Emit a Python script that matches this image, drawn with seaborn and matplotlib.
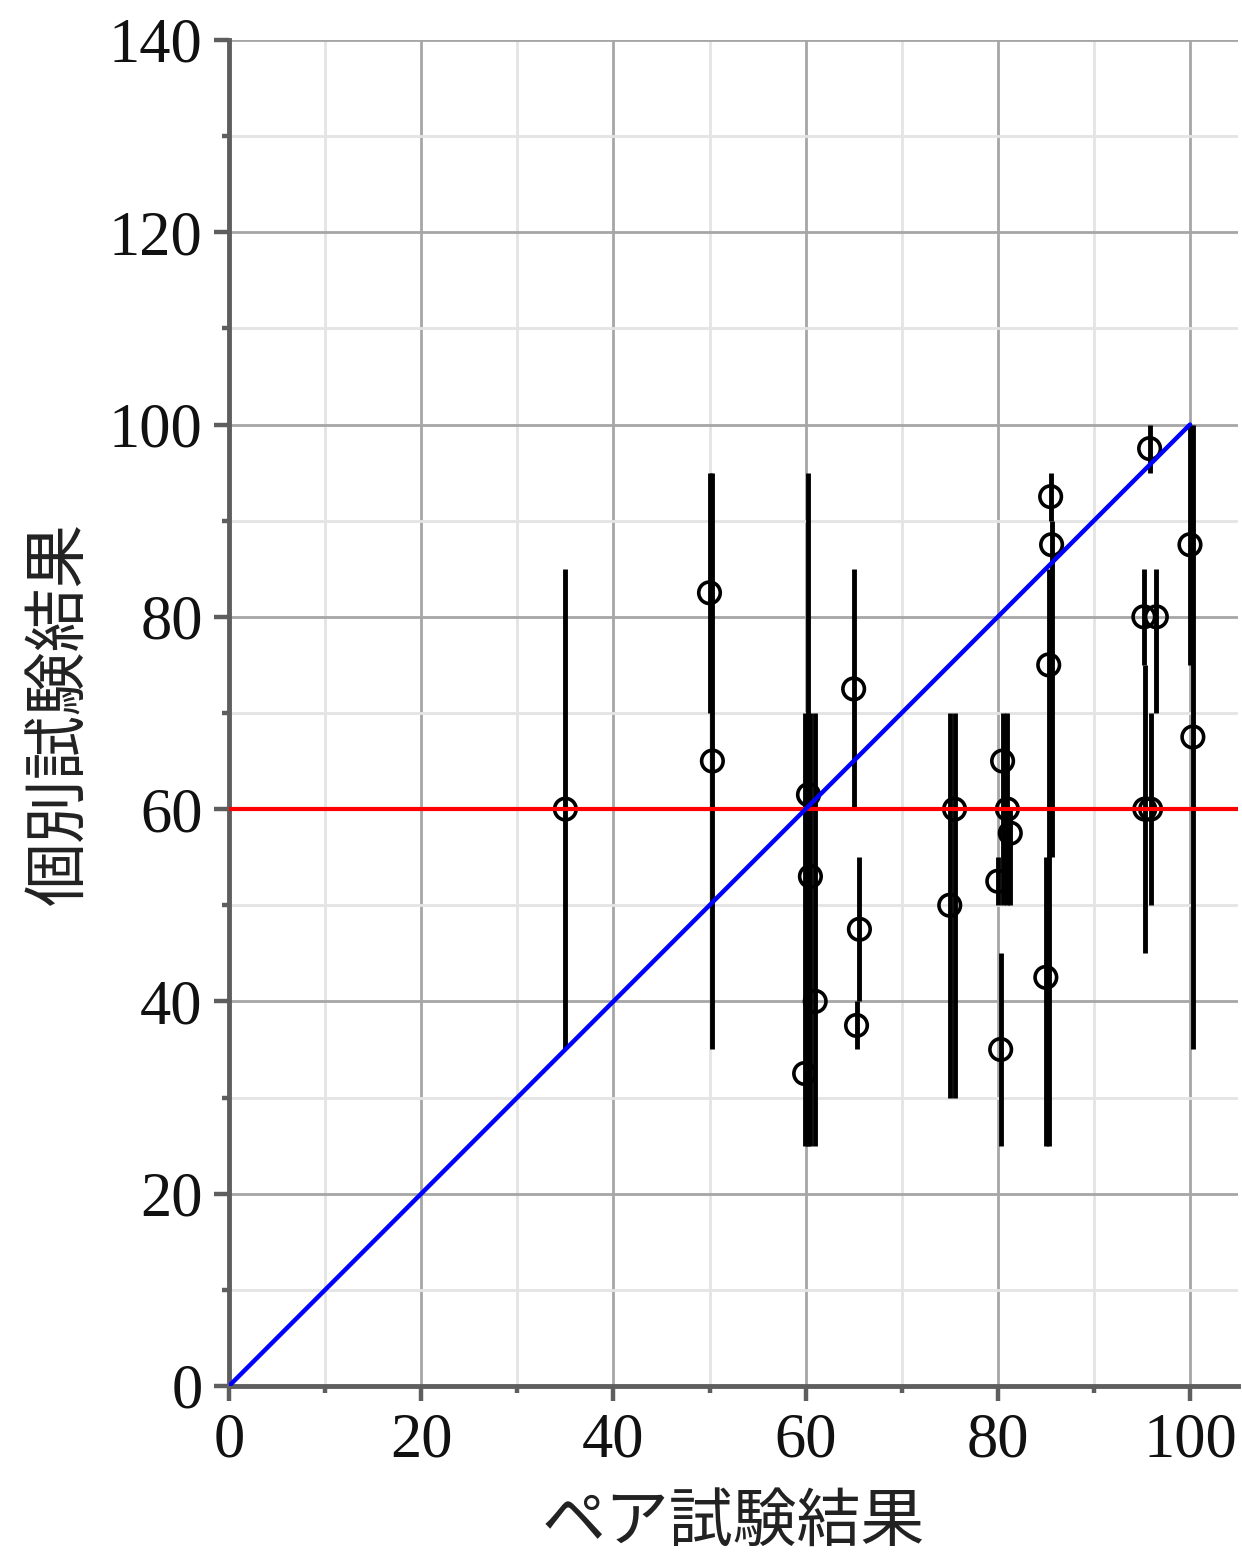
import matplotlib
matplotlib.use("Agg")
import matplotlib.pyplot as plt
import seaborn as sns
import pandas as pd
from matplotlib.ticker import MultipleLocator

# ---- data ----
pair_score = [35.0, 50.0, 50.3, 60.3, 60.5, 61.0, 59.9, 65.0, 65.6, 65.3,
              75.5, 75.0, 80.5, 81.0, 81.3, 80.0, 80.3, 85.5, 85.6, 85.3,
              85.0, 95.8, 95.2, 96.5, 95.3, 95.9, 100.0, 100.3]
indiv_score = [60, 82.5, 65, 61.5, 53, 40, 32.5, 72.5, 47.5, 37.5,
               60, 50, 65, 60, 57.5, 52.5, 35, 92.5, 87.5, 75,
               42.5, 97.5, 80, 80, 60, 60, 87.5, 67.5]
indiv_low = [35, 70, 35, 25, 25, 25, 25, 60, 40, 35,
             30, 30, 50, 50, 50, 50, 25, 90, 55, 25,
             25, 95, 75, 70, 45, 50, 75, 35]
indiv_high = [85, 95, 95, 95, 70, 70, 70, 85, 55, 40,
              70, 70, 70, 70, 60, 55, 45, 95, 90, 85,
              55, 100, 85, 85, 75, 70, 100, 100]
diag_x = [0, 100]
diag_y = [0, 100]
pass_line = 60
x_ticks = [0, 20, 40, 60, 80, 100]
y_ticks = [0, 20, 40, 60, 80, 100, 120, 140]
x_label = "ペア試験結果"
y_label = "個別試験結果"

df = pd.DataFrame({"pair": pair_score, "indiv": indiv_score,
                   "lo": indiv_low, "hi": indiv_high})

sns.set_theme(style="white")
plt.rcParams["font.family"] = ["Liberation Serif", "DejaVu Serif"]

fig = plt.figure(figsize=(12.42, 15.55), dpi=100)
ax = fig.add_axes([0.1844, 0.1087, 0.8124, 0.8656])

ax.set_xlim(0, 105)
ax.set_ylim(0, 140)

# grid
ax.xaxis.set_major_locator(MultipleLocator(20))
ax.xaxis.set_minor_locator(MultipleLocator(10))
ax.yaxis.set_major_locator(MultipleLocator(20))
ax.yaxis.set_minor_locator(MultipleLocator(10))
ax.set_axisbelow(True)
ax.grid(which="major", color="#a6a6a6", linewidth=2.0)
ax.grid(which="minor", color="#e4e4e4", linewidth=2.0)

# error bars
ax.vlines(df["pair"], df["lo"], df["hi"], colors="black", linewidth=3.5, zorder=3)

# markers
sns.scatterplot(data=df, x="pair", y="indiv", ax=ax, marker="o", s=240,
                facecolor="none", edgecolor="black", linewidth=2.6, zorder=4,
                legend=False)

# reference lines
ax.axhline(pass_line, color="#ff0000", linewidth=3.0, zorder=5)
sns.lineplot(x=diag_x, y=diag_y, ax=ax, color="#0000ff", linewidth=3.2, zorder=5)

# spines
for s in ["top", "right"]:
    ax.spines[s].set_visible(False)
for s in ["left", "bottom"]:
    ax.spines[s].set_color("#5e5e5e")
    ax.spines[s].set_linewidth(3.5)

ax.set_xticks(x_ticks)
ax.set_yticks(y_ticks)
ax.tick_params(which="major", direction="out", length=11, width=3.2,
               color="#5e5e5e", labelsize=45, labelcolor="#111111", pad=8,
               bottom=True, left=True)
ax.tick_params(which="minor", direction="out", length=5, width=3.2,
               color="#5e5e5e", bottom=True, left=True)

ax.set_xlabel(x_label, fontsize=46, family=["Noto Sans CJK JP", "DejaVu Sans"],
              color="#222222", labelpad=14)
ax.set_ylabel(y_label, fontsize=46, family=["Noto Sans CJK JP", "DejaVu Sans"],
              color="#222222", labelpad=12)

fig.savefig("out.png", dpi=100)
